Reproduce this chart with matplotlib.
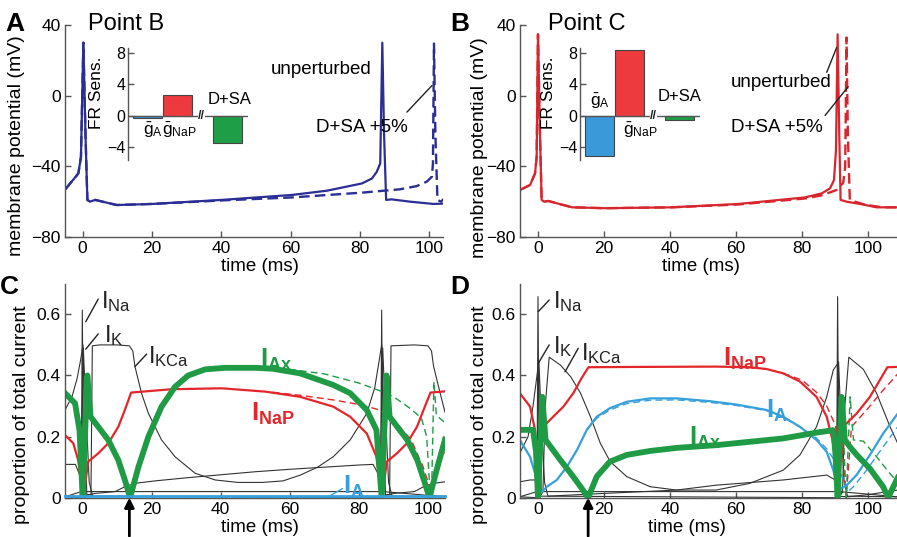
import matplotlib
matplotlib.use('Agg')
import matplotlib.pyplot as plt

plt.rcParams['font.family'] = ['Liberation Sans', 'DejaVu Sans']
plt.rcParams['mathtext.fontset'] = 'custom'
plt.rcParams['mathtext.rm'] = 'Liberation Sans'
plt.rcParams['mathtext.bf'] = 'Liberation Sans:bold'
plt.rcParams['mathtext.it'] = 'Liberation Sans:italic'

# ---------------- panel A : point B, membrane potential ----------------
a_t = [-5, -1.25, -0.5, 0.2, 0.8, 1.35, 2.1, 3.6, 9.8, 19.9, 40.1, 60.3, 70.4,
       80.5, 83.4, 84.8, 85.8, 86.4, 86.9, 87.5, 89.1, 94.4, 101.2, 105]
a_v = [-53, -44, -34.7, 30, -21.5, -59, -60, -59, -61.9, -61.3, -59, -56.2, -53.8,
       -49.7, -46.9, -43.1, -38.4, 30, -21.5, -59, -58.7, -60, -61.3, -61]
a_t_pert = [-5, -1.25, -0.5, 0.2, 0.8, 1.35, 2.1, 3.6, 9.8, 19.9, 40.1, 60.3, 80.5,
            86.8, 91.5, 96.3, 99.2, 100.7, 101.0, 101.3, 101.7, 102.3, 103.3, 104, 105]
a_v_pert = [-53, -44, -34.7, 30, -21.5, -59, -60, -59, -61.9, -61.3, -59.3, -57.6, -54.9,
            -53.8, -53, -51.2, -48.7, -45.9, -38.4, 29.5, -21.5, -59, -60, -58.7, -60]

# ---------------- panel B : point C, membrane potential ----------------
b_t = [-5.5, -2.4, -0.9, -0.4, 0, 0.6, 1.1, 1.8, 3.1, 10.3, 20.3, 40.5, 60.7, 80.9,
       86, 88.5, 89.7, 90.3, 90.8, 91.3, 91.7, 93.5, 97.6, 102.6, 109]
b_v = [-53.4, -50.6, -44, -34.7, 34.7, -21.5, -59, -60, -59.6, -63.2, -63.7, -63.2,
       -61.3, -57.6, -55.3, -52.5, -47.8, -31, 34.7, -21.5, -59, -60, -61.3, -63.2, -63.2]
b_t_pert = [-5.5, -2.4, -0.9, -0.4, 0, 0.6, 1.1, 1.8, 3.1, 10.3, 20.3, 40.5, 60.7, 80.9,
            86, 90.5, 92.5, 93.1, 93.5, 93.9, 94.5, 96, 99.5, 104.6, 109]
b_v_pert = [-53.4, -50.6, -44, -34.7, 34.7, -21.5, -59, -60, -59.6, -63.2, -63.7, -63.2,
            -61.6, -58.2, -56.4, -53.4, -49.3, -40.3, 32.9, -21.5, -59, -60, -61.9, -63.2, -63.2]

# ---------------- insets : firing rate sensitivity ----------------
sens_names = [r'$\bar{\mathrm{g}}_{\mathrm{A}}$', r'$\bar{\mathrm{g}}_{\mathrm{NaP}}$', 'D+SA']
sens_pos = [0, 1, 2.67]
sens_B = [-0.25, 2.7, -3.4]
sens_C = [-5.1, 8.4, -0.5]
sens_colors = ['#3a9ad9', '#ec3a3f', '#1f9e48']

# ---------------- panel C : current shares, point B ----------------
c_ax_t = [-5, -2.1, -0.8, 0.1, 1.45, 2.4, 4.6, 7.5, 10.4, 12.3, 13.8, 16.2, 19.1, 22.9,
          26.8, 30.6, 35.5, 41.3, 50, 55, 62.9, 72.5, 77.4, 82.2, 85, 86.5, 87.9, 88.8,
          91, 93.9, 96.8, 98.7, 100.3, 102.6, 104.8]
c_ax_y = [0.342, 0.309, 0.22, 0.0, 0.40, 0.265, 0.232, 0.189, 0.123, 0.058, 0.0, 0.10,
          0.2, 0.298, 0.363, 0.40, 0.42, 0.425, 0.425, 0.422, 0.407, 0.369, 0.342, 0.287,
          0.221, 0.0, 0.40, 0.265, 0.232, 0.189, 0.123, 0.058, 0.0, 0.10, 0.19]
c_ax_t_pert = [50, 60, 70, 80, 86, 90, 95, 98, 99.5, 100.3, 100.9, 101.6, 102.3, 104.8]
c_ax_y_pert = [0.425, 0.42, 0.405, 0.375, 0.35, 0.33, 0.29, 0.26, 0.2, 0.05, 0.0, 0.38,
               0.27, 0.245]
c_nap_t = [-5, -2.6, -1.2, 0.3, 1.7, 4.6, 7.5, 10.4, 12.3, 14.1, 25.8, 40.3, 53, 63,
           72.5, 77.4, 82.2, 85, 86, 86.6, 88.0, 90.9, 93.8, 96.7, 98.6, 100.6, 104.8]
c_nap_y = [0.205, 0.178, 0.123, 0.0, 0.118, 0.145, 0.178, 0.232, 0.287, 0.344, 0.355,
           0.358, 0.347, 0.33, 0.298, 0.265, 0.21, 0.134, 0.05, 0.0, 0.118, 0.145, 0.178,
           0.232, 0.287, 0.344, 0.348]
c_nap_t_pert = [55, 63, 72.5, 80, 86, 90, 95, 98.5, 100.5, 101.1, 102.5, 104.8]
c_nap_y_pert = [0.345, 0.335, 0.32, 0.305, 0.287, 0.255, 0.19, 0.1, 0.03, 0.0, 0.12, 0.15]
c_ia_t = [-5, 104.8]
c_ia_y = [0.004, 0.004]
c_kca_t = [-5, -3, -1.5, -0.5, 0.2, 0.8, 1.3, 2.5, 2.9, 5, 10, 13.6, 14.6, 15.2, 17.1,
           19.1, 22.9, 26.8, 32.6, 38.4, 45, 52, 58, 63, 68, 72.5, 77.4, 82.2, 84.5,
           85.8, 86.5, 87.1, 87.6, 88.8, 89.2, 96, 99.9, 100.9, 101.5, 103.4, 104.8]
c_kca_y = [0.287, 0.33, 0.39, 0.45, 0.50, 0.2, 0.01, 0.01, 0.497, 0.5, 0.5, 0.497, 0.48,
           0.43, 0.342, 0.276, 0.189, 0.134, 0.08, 0.058, 0.05, 0.05, 0.055, 0.074, 0.1,
           0.134, 0.189, 0.276, 0.36, 0.45, 0.50, 0.2, 0.01, 0.01, 0.497, 0.5, 0.497,
           0.48, 0.43, 0.342, 0.28]
c_low_t = [-5, -2, -0.6, 0.3, 3.7, 9.5, 12.3, 15.2, 21, 30, 40, 50, 60, 70, 80, 84,
           85.9, 86.8, 90, 96, 98.6, 101.5, 104.8]
c_low_y = [0.109, 0.109, 0.07, 0.005, 0.014, 0.02, 0.036, 0.047, 0.055, 0.065, 0.075,
           0.085, 0.093, 0.1, 0.107, 0.109, 0.07, 0.005, 0.014, 0.02, 0.036, 0.047, 0.052]
c_na_t = [-5, -0.3, 0.0, 0.4, 86.2, 86.5, 86.9, 104.8]
c_na_y = [0.003, 0.02, 0.614, 0.02, 0.02, 0.614, 0.02, 0.003]
c_k_t = [-5, -0.5, 0.3, 1.0, 2.0, 3.0, 86.0, 86.8, 87.5, 88.5, 89.5, 104.8]
c_k_y = [0.003, 0.0, 0.49, 0.3, 0.05, 0.005, 0.0, 0.49, 0.3, 0.05, 0.005, 0.003]

# ---------------- panel D : current shares, point C ----------------
d_nap_t = [-5.5, -2.4, -0.9, -0.1, 1.6, 4.6, 7.7, 10.7, 13.2, 15.3, 30, 54, 64.2, 69.3,
           74.3, 79.4, 84.4, 87.5, 89.5, 90.3, 90.8, 92.5, 96.6, 100.6, 103.6, 105.9, 109]
d_nap_y = [0.342, 0.298, 0.222, 0.0, 0.232, 0.265, 0.298, 0.342, 0.391, 0.427, 0.428,
           0.429, 0.427, 0.421, 0.407, 0.38, 0.33, 0.265, 0.178, 0.07, 0.0, 0.232, 0.276,
           0.33, 0.385, 0.427, 0.428]
d_nap_t_pert = [74.3, 80, 84.4, 87.5, 90, 92.3, 93.4, 95, 99.6, 104.6, 109]
d_nap_y_pert = [0.407, 0.385, 0.345, 0.30, 0.24, 0.15, 0.0, 0.232, 0.287, 0.352, 0.405]
d_ia_t = [-5.5, -2.4, -0.3, 0.7, 2.7, 5.7, 8.8, 11.8, 14.8, 17.8, 21.8, 26.9, 34, 42, 52,
          60, 69.3, 74.3, 79.4, 84.4, 87.5, 89.5, 91, 93.5, 96.6, 100.6, 104.6, 109]
d_ia_y = [0.189, 0.134, 0.058, 0.014, 0.036, 0.058, 0.102, 0.156, 0.222, 0.265, 0.293,
          0.314, 0.325, 0.325, 0.316, 0.305, 0.287, 0.265, 0.232, 0.189, 0.15, 0.09,
          0.025, 0.04, 0.075, 0.14, 0.21, 0.275]
d_ia_t_pert = [14.8, 17.8, 21.8, 26.9, 34, 42, 52, 60, 69.3, 74.3, 79.4, 84.4, 87.5,
               90, 92.5, 94, 95.6, 99.6, 104.6, 109]
d_ia_y_pert = [0.222, 0.26, 0.287, 0.308, 0.319, 0.32, 0.312, 0.302, 0.285, 0.263, 0.231,
               0.195, 0.16, 0.12, 0.06, 0.02, 0.036, 0.09, 0.167, 0.232]
d_ax_t = [-5.5, -1.5, -0.6, 0.0, 1.3, 2.3, 3.8, 6.8, 9.9, 12.9, 15.2, 17.8, 21.8, 26.9,
          34, 42, 54.1, 64.2, 74.3, 84.4, 89.5, 90.1, 90.8, 92, 93, 94.5, 96.6, 100.6,
          104.6, 106.1, 109]
d_ax_y = [0.222, 0.222, 0.15, 0.0, 0.33, 0.189, 0.167, 0.123, 0.08, 0.036, 0.0, 0.069,
          0.118, 0.14, 0.153, 0.163, 0.172, 0.183, 0.194, 0.213, 0.221, 0.15, 0.0, 0.33,
          0.189, 0.167, 0.14, 0.095, 0.036, 0.0, 0.065]
d_ax_t_pert = [84.4, 89.5, 92.5, 93.4, 94.6, 95.6, 98.6, 102.6, 106.6, 109]
d_ax_y_pert = [0.213, 0.222, 0.22, 0.0, 0.33, 0.189, 0.185, 0.134, 0.08, 0.05]
d_kca_t = [-5.5, -3, -1.5, -0.3, 0.1, 0.6, 1.0, 1.5, 2.2, 3.4, 6.8, 9.9, 12.9, 15.9,
           18.9, 21.9, 26.9, 34, 42, 54, 64.2, 74.3, 79.4, 84.4, 87.5, 89.5, 90.9, 91.4,
           91.8, 92.3, 93, 94.2, 98.6, 102.6, 106.7, 109]
d_kca_y = [0.146, 0.2, 0.3, 0.4, 0.44, 0.2, 0.01, 0.02, 0.3, 0.46, 0.434, 0.396, 0.342,
           0.265, 0.178, 0.118, 0.069, 0.036, 0.025, 0.025, 0.047, 0.09, 0.14, 0.232,
           0.33, 0.418, 0.44, 0.2, 0.01, 0.02, 0.3, 0.46, 0.42, 0.342, 0.232, 0.178]
d_low_t = [-5.5, -2.4, -0.6, 0.3, 3, 20, 42, 54, 74.3, 87.5, 89.8, 91, 94, 100, 109]
d_low_y = [0.052, 0.058, 0.058, 0.005, 0.005, 0.014, 0.025, 0.041, 0.058, 0.074, 0.06,
           0.005, 0.003, 0.01, 0.025]
d_na_t = [-5.5, -0.3, 0.0, 0.4, 90.5, 90.8, 91.2, 109]
d_na_y = [0.003, 0.02, 0.658, 0.02, 0.02, 0.658, 0.02, 0.003]
d_k_t = [-5.5, -0.5, 0.3, 1.0, 2.0, 3.0, 90.3, 91.1, 91.8, 92.8, 93.8, 109]
d_k_y = [0.003, 0.0, 0.445, 0.25, 0.05, 0.005, 0.0, 0.445, 0.25, 0.05, 0.005, 0.003]

# time of the minimum marked by an arrow
arrow_C = 13.6
arrow_D = 15.2

BLUE_DARK = '#2b2e95'
RED_B = '#d8262e'
RED = '#e3262b'
GREEN = '#1f9a45'
LBLUE = '#36a0dc'
GREY = '#555555'
THIN = '#333333'


def style_axes(ax):
    for side in ['top', 'right']:
        ax.spines[side].set_visible(False)
    for side in ['left', 'bottom']:
        ax.spines[side].set_color(GREY)
        ax.spines[side].set_linewidth(1.0)
    ax.tick_params(direction='in', length=4, width=1, color=GREY, labelsize=12.5, pad=3)


def voltage_panel(ax, t, v, tp, vp, color, xlim):
    ax.plot(tp, vp, color=color, lw=1.7, ls=(0, (4.5, 2.2)))
    ax.plot(t, v, color=color, lw=1.6)
    ax.set_xlim(*xlim)
    ax.set_ylim(-80, 40)
    ax.set_yticks([-80, -40, 0, 40])
    ax.set_xticks([0, 20, 40, 60, 80, 100])
    style_axes(ax)
    ax.set_ylabel('membrane potential (mV)', fontsize=14)
    ax.set_xlabel('time (ms)', fontsize=13.5)


def inset(ax, values):
    ax.set_facecolor('none')
    ax.bar(sens_pos, values, width=0.95, color=sens_colors, edgecolor='#444444', lw=0.8,
           zorder=2)
    ax.axhline(0, color=GREY, lw=1.0, zorder=3)
    ax.text(1.8, 0, '//', ha='center', va='center', fontsize=9, fontweight='bold',
            color='#222222', zorder=4,
            bbox=dict(boxstyle='square,pad=0.0', fc='white', ec='none'))
    ax.set_xlim(-0.65, 3.35)
    ax.set_ylim(-5.6, 8.6)
    ax.set_yticks([-4, 0, 4, 8])
    ax.set_xticks([])
    style_axes(ax)
    ax.spines['bottom'].set_visible(False)
    ax.tick_params(labelsize=11.5, pad=2)
    ax.set_ylabel('FR Sens.', fontsize=12.5, labelpad=1)
    ax.yaxis.set_label_coords(-0.2, 0.6)


def current_panel(ax, xlim):
    ax.set_xlim(*xlim)
    ax.set_ylim(0, 0.7)
    ax.set_yticks([0, 0.2, 0.4, 0.6])
    ax.set_yticklabels(['0', '0.2', '0.4', '0.6'])
    ax.set_xticks([0, 20, 40, 60, 80, 100])
    style_axes(ax)
    ax.set_ylabel('proportion of total current', fontsize=14)
    ax.set_xlabel('time (ms)', fontsize=13.5)


def sub(name):
    return r'$\mathrm{I}_{\mathrm{%s}}$' % name


def bsub(name):
    return r'$\mathbf{I}_{\mathbf{%s}}$' % name


def leader(ax, p0, p1):
    ax.annotate('', xy=p0, xytext=p1,
                arrowprops=dict(arrowstyle='-', color='#222222', lw=1.0,
                                shrinkA=0, shrinkB=0))


def main():
    fig = plt.figure(figsize=(8.97, 5.37), dpi=100)
    W, H = 897.0, 537.0
    axA = fig.add_axes([65 / W, 1 - 237 / H, 378 / W, 212 / H])
    axB = fig.add_axes([520 / W, 1 - 237 / H, 377 / W, 212 / H])
    axC = fig.add_axes([65 / W, 1 - 497.7 / H, 380 / W, 213.9 / H])
    axD = fig.add_axes([520 / W, 1 - 497.7 / H, 377 / W, 213.9 / H])
    insA = fig.add_axes([128 / W, 1 - 160 / H, 120 / W, 112 / H])
    insB = fig.add_axes([580 / W, 1 - 160 / H, 120 / W, 112 / H])

    # ---- A ----
    voltage_panel(axA, a_t, a_v, a_t_pert, a_v_pert, BLUE_DARK, (-5.1, 103.9))
    axA.text(68.7, 15, 'unperturbed', ha='center', va='center', fontsize=13.5)
    axA.text(80.5, -17.8, 'D+SA +5%', ha='center', va='center', fontsize=13.5)
    leader(axA, (93.5, -9.3), (100.7, 5.7))
    axA.yaxis.set_label_coords(-0.106, 0.43)
    axA.xaxis.set_label_coords(0.516, -0.1)

    # ---- B ----
    voltage_panel(axB, b_t, b_v, b_t_pert, b_v_pert, RED_B, (-5.45, 108.8))
    axB.text(73.8, 7.5, 'unperturbed', ha='center', va='center', fontsize=13.5)
    axB.text(72.3, -17.8, 'D+SA +5%', ha='center', va='center', fontsize=13.5)
    leader(axB, (87.5, 13.2), (90.5, 27.2))
    leader(axB, (87.0, -11.2), (94.0, 5.1))
    axB.yaxis.set_label_coords(-0.086, 0.42)
    axB.xaxis.set_label_coords(0.48, -0.1)

    # ---- insets ----
    inset(insA, sens_B)
    insA.text(0.18, -1.8, sens_names[0], ha='center', va='center', fontsize=12.5)
    insA.text(1.08, -1.8, sens_names[1], ha='center', va='center', fontsize=12.5)
    insA.text(2.75, 2.1, sens_names[2], ha='center', va='center', fontsize=12)
    inset(insB, sens_C)
    insB.text(0.02, 1.8, sens_names[0], ha='center', va='center', fontsize=12.5)
    insB.text(1.38, -1.9, sens_names[1], ha='center', va='center', fontsize=12.5)
    insB.text(2.68, 2.4, sens_names[2], ha='center', va='center', fontsize=12)

    # ---- C ----
    current_panel(axC, (-5, 104.8))
    axC.plot(c_low_t, c_low_y, color=THIN, lw=0.8)
    axC.plot(c_kca_t, c_kca_y, color=THIN, lw=0.8)
    axC.plot(c_k_t, c_k_y, color=THIN, lw=0.8)
    axC.plot(c_na_t, c_na_y, color=THIN, lw=0.8)
    axC.plot(c_nap_t_pert, c_nap_y_pert, color=RED, lw=1.0, ls=(0, (5, 3)))
    axC.plot(c_ax_t_pert, c_ax_y_pert, color=GREEN, lw=1.0, ls=(0, (5, 3)))
    axC.plot(c_nap_t, c_nap_y, color=RED, lw=1.6)
    axC.plot(c_ax_t, c_ax_y, color=GREEN, lw=4.2, solid_joinstyle='round')
    axC.plot(c_ia_t, c_ia_y, color=LBLUE, lw=2.0, clip_on=False, zorder=5)
    axC.text(5.4, 0.642, sub('Na'), ha='left', va='center', fontsize=17, color='#222222')
    axC.text(6.4, 0.53, sub('K'), ha='left', va='center', fontsize=17, color='#222222')
    axC.text(18.9, 0.463, sub('KCa'), ha='left', va='center', fontsize=17, color='#222222')
    leader(axC, (1.0, 0.576), (4.6, 0.65))
    leader(axC, (1.0, 0.486), (4.6, 0.536))
    leader(axC, (15.2, 0.429), (18.6, 0.47))
    axC.text(56, 0.452, bsub('Ax'), ha='center', va='center', fontsize=18.5, color=GREEN)
    axC.text(55, 0.275, bsub('NaP'), ha='center', va='center', fontsize=18.5, color=RED)
    axC.text(78.5, 0.035, bsub('A'), ha='center', va='center', fontsize=18.5, color=LBLUE)
    axC.annotate('', xy=(71.1, 0.003), xytext=(75.2, 0.03),
                 arrowprops=dict(arrowstyle='-', color=LBLUE, lw=1.0, shrinkA=0, shrinkB=0))
    axC.annotate('', xy=(arrow_C, 0), xycoords='data',
                 xytext=(arrow_C, -0.18), textcoords=('data', 'axes fraction'),
                 arrowprops=dict(arrowstyle='-|>', color='black', lw=2,
                                 mutation_scale=14, shrinkA=0, shrinkB=0),
                 annotation_clip=False)
    axC.yaxis.set_label_coords(-0.092, 0.387)
    axC.xaxis.set_label_coords(0.513, -0.1)

    # ---- D ----
    current_panel(axD, (-5.45, 108.8))
    axD.plot(d_low_t, d_low_y, color=THIN, lw=0.8)
    axD.plot(d_kca_t, d_kca_y, color=THIN, lw=0.8)
    axD.plot(d_k_t, d_k_y, color=THIN, lw=0.8)
    axD.plot(d_na_t, d_na_y, color=THIN, lw=0.8)
    axD.plot(d_nap_t_pert, d_nap_y_pert, color=RED, lw=1.0, ls=(0, (5, 3)))
    axD.plot(d_ia_t_pert, d_ia_y_pert, color=LBLUE, lw=1.0, ls=(0, (5, 3)))
    axD.plot(d_ax_t_pert, d_ax_y_pert, color=GREEN, lw=1.0, ls=(0, (5, 3)))
    axD.plot(d_ia_t, d_ia_y, color=LBLUE, lw=1.6)
    axD.plot(d_nap_t, d_nap_y, color=RED, lw=1.6)
    axD.plot(d_ax_t, d_ax_y, color=GREEN, lw=4.2, solid_joinstyle='round')
    axD.text(4.4, 0.643, sub('Na'), ha='left', va='center', fontsize=17, color='#222222')
    axD.text(4.5, 0.495, sub('K'), ha='left', va='center', fontsize=17, color='#222222')
    axD.text(12.9, 0.472, sub('KCa'), ha='left', va='center', fontsize=17, color='#222222')
    leader(axD, (0.1, 0.609), (3.4, 0.647))
    leader(axD, (0.1, 0.44), (3.4, 0.5))
    leader(axD, (8.2, 0.412), (12.2, 0.489))
    axD.text(62.7, 0.455, bsub('NaP'), ha='center', va='center', fontsize=18.5, color=RED)
    axD.text(72.5, 0.283, bsub('A'), ha='center', va='center', fontsize=18.5, color=LBLUE)
    axD.text(50.6, 0.197, bsub('Ax'), ha='center', va='center', fontsize=18.5, color=GREEN)
    axD.annotate('', xy=(arrow_D, 0), xycoords='data',
                 xytext=(arrow_D, -0.18), textcoords=('data', 'axes fraction'),
                 arrowprops=dict(arrowstyle='-|>', color='black', lw=2,
                                 mutation_scale=14, shrinkA=0, shrinkB=0),
                 annotation_clip=False)
    axD.yaxis.set_label_coords(-0.086, 0.387)
    axD.xaxis.set_label_coords(0.443, -0.1)

    # ---- panel letters and titles ----
    fig.text(5 / W, 1 - 12 / H, 'A', fontsize=19, fontweight='bold', va='top')
    fig.text(88 / W, 1 - 13 / H, 'Point B', fontsize=17, va='top')
    fig.text(450 / W, 1 - 12 / H, 'B', fontsize=19, fontweight='bold', va='top')
    fig.text(548 / W, 1 - 13 / H, 'Point C', fontsize=17, va='top')
    fig.text(0 / W, 1 - 275 / H, 'C', fontsize=19, fontweight='bold', va='top')
    fig.text(450 / W, 1 - 275 / H, 'D', fontsize=19, fontweight='bold', va='top')

    fig.savefig('out.png', dpi=100)


if __name__ == '__main__':
    main()
